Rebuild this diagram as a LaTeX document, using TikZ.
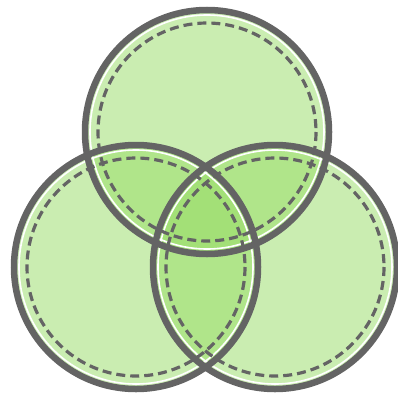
\documentclass[tikz,border=0pt]{standalone}
\begin{document}
\begin{tikzpicture}[x=1pt,y=-1pt,
  fillc/.style={fill=vgreen,fill opacity=0.5},
  whitering/.style={draw=white,line width=1.6pt},
  ring/.style={draw=vgray,line width=6.5pt},
  dashring/.style={draw=vgray,line width=3.2pt,dash pattern=on 9pt off 5pt}]
\definecolor{vgreen}{RGB}{150,220,100}
\definecolor{vgray}{RGB}{100,100,100}
\useasboundingbox (0,0) rectangle (398,396);
\coordinate (T) at (207,132);
\coordinate (L) at (136,267);
\coordinate (R) at (275,267);
\foreach \c in {T,L,R} \fill[fillc] (\c) circle (121);
\foreach \c in {T,L,R} \draw[whitering] (\c) circle (117);
\foreach \c in {T,L,R} \draw[ring] (\c) circle (122);
\foreach \c in {T,L,R} \draw[dashring] (\c) circle (109);
\end{tikzpicture}
\end{document}
